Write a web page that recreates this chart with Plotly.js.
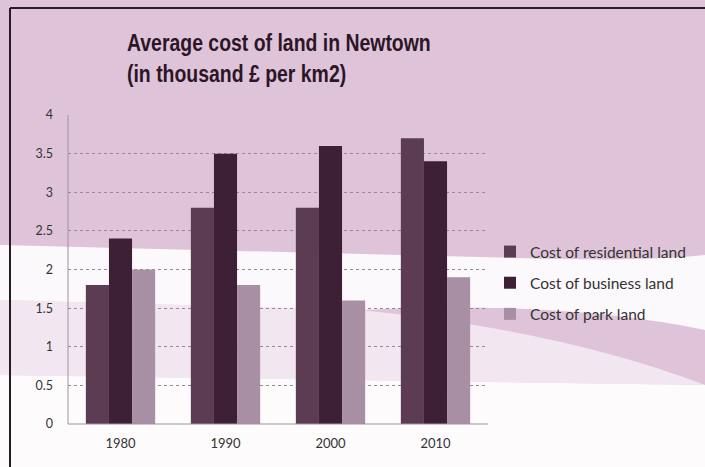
<!DOCTYPE html>
<html><head><meta charset="utf-8">
<script src="https://cdn.plot.ly/plotly-3.0.1.min.js"></script>
<style>html,body{margin:0;padding:0;background:#fff}#c{width:705px;height:467px}</style>
</head><body><div id="c"></div>
<script>
const years = ['1980', '1990', '2000', '2010'];
const seriesNames = ['Cost of residential land', 'Cost of business land', 'Cost of park land'];
const residential = [1.8, 2.8, 2.8, 3.7];
const business = [2.4, 3.5, 3.6, 3.4];
const park = [2.0, 1.8, 1.6, 1.9];
const yTicks = [0, 0.5, 1, 1.5, 2, 2.5, 3, 3.5, 4];
const yTickText = ['0', '0.5', '1', '1.5', '2', '2.5', '3', '3.5', '4'];

const colors = ['#5b3c53', '#3e2036', '#a98fa3'];
const vals = [residential, business, park];
const traces = vals.map((v, i) => ({
  type: 'bar', x: years, y: v, name: seriesNames[i],
  marker: {color: colors[i]}, legendgroup: 'g' + i
}));

// plot area geometry in px: l=68, r=488, t=115, b=424
const L = 68, R = 488, T = 115, B = 424;
const px = x => (x - L) / (R - L);
const py = y => (B - y) / (B - T);

const layout = {
  width: 705, height: 467,
  margin: {l: L, r: 705 - R, t: T, b: 467 - B, pad: 0},
  paper_bgcolor: '#dfc4d9', plot_bgcolor: 'rgba(0,0,0,0)',
  font: {family: 'Lato, "Open Sans", sans-serif', color: '#333', size: 12},
  title: {
    text: '<b>Average cost of land in Newtown<br>(in thousand £ per km2)</b>',
    font: {family: '"Liberation Sans", Arial, sans-serif', size: 24, color: '#2b1627'},
    x: 127 / 705, xanchor: 'left', xref: 'container',
    y: 1 - 51 / 467, yanchor: 'top', yref: 'container'
  },
  barmode: 'group', bargap: 0.34, bargroupgap: 0,
  xaxis: {
    showgrid: false, zeroline: false, showline: false,
    ticks: '', tickfont: {size: 13, color: '#333'}, ticklabelstandoff: 10
  },
  yaxis: {
    range: [0, 4], tickvals: yTicks, ticktext: yTickText,
    showgrid: true, gridcolor: '#9c8597', griddash: 'dot', gridwidth: 1,
    zeroline: false, showline: false, ticks: '',
    tickfont: {size: 12.5, color: '#333'}, ticklabelstandoff: 14
  },
  legend: {
    x: 490 / 705, xref: 'container', xanchor: 'left',
    y: py(235), yanchor: 'top',
    font: {size: 15.5, color: '#333'},
    tracegroupgap: 8, itemwidth: 30, bgcolor: 'rgba(0,0,0,0)'
  },
  shapes: [
    // white watermark swooshes (background decoration)
    {type: 'path', layer: 'below', xref: 'paper', yref: 'paper', line: {width: 0}, fillcolor: 'rgba(255,255,255,0.9)',
     path: `M ${px(0)} ${py(245)} L ${px(520)} ${py(258)} Q ${px(640)} ${py(262)} ${px(705)} ${py(255)} L ${px(705)} ${py(330)} Q ${px(560)} ${py(300)} ${px(360)} ${py(310)} L ${px(0)} ${py(300)} Z`},
    {type: 'path', layer: 'below', xref: 'paper', yref: 'paper', line: {width: 0}, fillcolor: 'rgba(255,255,255,0.92)',
     path: `M ${px(0)} ${py(375)} L ${px(705)} ${py(385)} L ${px(705)} ${py(467)} L ${px(0)} ${py(467)} Z`},
    {type: 'path', layer: 'below', xref: 'paper', yref: 'paper', line: {width: 0}, fillcolor: 'rgba(255,255,255,0.6)',
     path: `M ${px(0)} ${py(300)} L ${px(360)} ${py(310)} Q ${px(560)} ${py(330)} ${px(705)} ${py(385)} L ${px(0)} ${py(375)} Z`},
    // frame lines
    {type: 'line', xref: 'paper', yref: 'paper', x0: px(10), x1: px(10), y0: py(8), y1: py(467), line: {color: '#2a1a26', width: 2}},
    {type: 'line', xref: 'paper', yref: 'paper', x0: px(10), x1: px(705), y0: py(8), y1: py(8), line: {color: '#2a1a26', width: 2}},
    // y axis line and x axis line
    {type: 'line', xref: 'paper', yref: 'paper', x0: 0, x1: 0, y0: 0, y1: 1, line: {color: '#a090a0', width: 1}},
    {type: 'line', xref: 'paper', yref: 'paper', x0: 0, x1: 1, y0: 0, y1: 0, line: {color: '#a090a0', width: 1}}
  ],
  showlegend: true
};
Plotly.newPlot('c', traces, layout, {displayModeBar: false, staticPlot: true}).then(() => {
  // condense the title horizontally to mimic the narrow bold face of the original
  const t = document.querySelector('#c .g-gtitle text');
  if (t) {
    const s = 0.81, x0 = 127;
    const prev = t.getAttribute('transform') || '';
    t.setAttribute('transform', `translate(${x0 * (1 - s)},0) scale(${s},1) ${prev}`);
  }
});
</script>
</body></html>
